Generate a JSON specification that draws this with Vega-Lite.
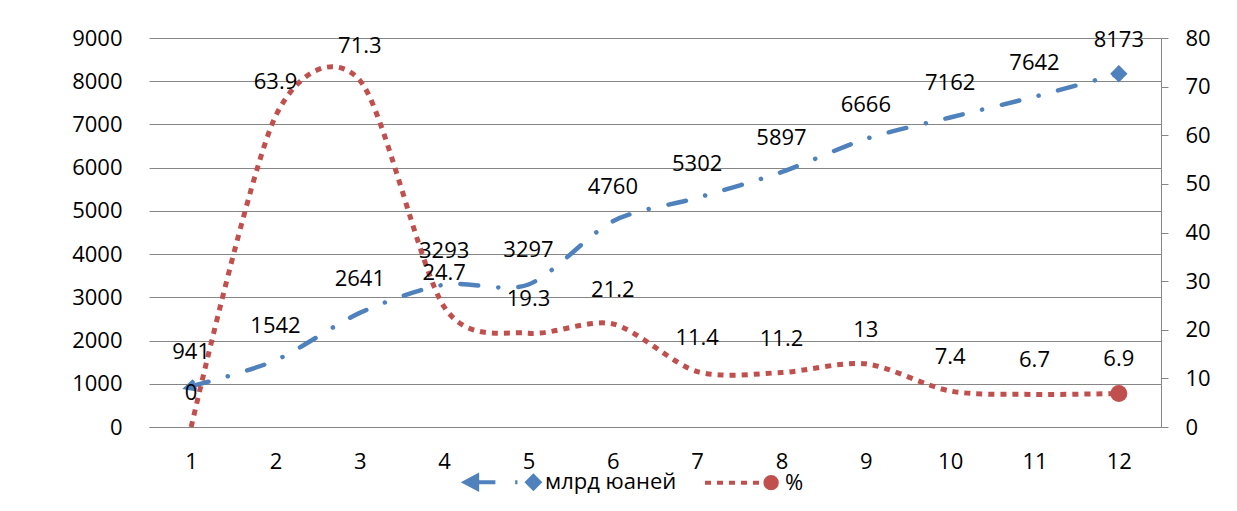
{
  "$schema": "https://vega.github.io/schema/vega-lite/v6.json",
  "width": 1012,
  "height": 389,
  "autosize": {"type": "none"},
  "padding": {"left": 149, "top": 38, "right": 76, "bottom": 84},
  "background": "white",
  "config": {
    "view": {"stroke": null},
    "font": "Open Sans",
    "axis": {
      "labelFont": "Open Sans",
      "labelFontSize": 22,
      "labelColor": "#000000",
      "title": null,
      "domainColor": "#868686",
      "tickColor": "#868686",
      "gridColor": "#868686",
      "gridWidth": 1
    }
  },
  "datasets": {
    "yuan": [
      {"x": 1, "value": 941},
      {"x": 2, "value": 1542},
      {"x": 3, "value": 2641},
      {"x": 4, "value": 3293},
      {"x": 5, "value": 3297},
      {"x": 6, "value": 4760},
      {"x": 7, "value": 5302},
      {"x": 8, "value": 5897},
      {"x": 9, "value": 6666},
      {"x": 10, "value": 7162},
      {"x": 11, "value": 7642},
      {"x": 12, "value": 8173}
    ],
    "pct": [
      {"x": 1, "value": 0},
      {"x": 2, "value": 63.9},
      {"x": 3, "value": 71.3},
      {"x": 4, "value": 24.7},
      {"x": 5, "value": 19.3},
      {"x": 6, "value": 21.2},
      {"x": 7, "value": 11.4},
      {"x": 8, "value": 11.2},
      {"x": 9, "value": 13},
      {"x": 10, "value": 7.4},
      {"x": 11, "value": 6.7},
      {"x": 12, "value": 6.9}
    ]
  },
  "layer": [
    {
      "data": {"name": "yuan"},
      "encoding": {
        "x": {
          "field": "x",
          "type": "ordinal",
          "scale": {"type": "point", "padding": 0.5},
          "axis": {"labelAngle": 0, "ticks": false, "domain": true, "grid": false, "labelPadding": 24}
        },
        "y": {
          "field": "value",
          "type": "quantitative",
          "scale": {"domain": [0, 9000], "nice": false},
          "axis": {
            "orient": "left",
            "values": [0, 1000, 2000, 3000, 4000, 5000, 6000, 7000, 8000, 9000],
            "format": "d",
            "domain": false,
            "ticks": false,
            "grid": true,
            "labelPadding": 27
          }
        }
      },
      "layer": [
        {
          "mark": {
            "type": "line",
            "color": "#4F81BD",
            "strokeWidth": 4.5,
            "strokeDash": [18, 20, 0.1, 20],
            "strokeCap": "round",
            "interpolate": "cardinal",
            "tension": 0.15
          }
        },
        {
          "transform": [{"filter": "datum.x === 1"}],
          "mark": {
            "type": "point",
            "shape": "M0.7,-0.75L-0.8,0L0.7,0.75",
            "filled": false,
            "color": "#4F81BD",
            "strokeWidth": 4,
            "size": 150,
            "angle": -17,
            "opacity": 1
          }
        },
        {
          "transform": [{"filter": "datum.x === 12"}],
          "mark": {
            "type": "point",
            "shape": "diamond",
            "filled": true,
            "color": "#4F81BD",
            "size": 300,
            "opacity": 1
          }
        },
        {
          "mark": {
            "type": "text",
            "dy": -34,
            "font": "Open Sans",
            "fontSize": 22,
            "color": "#000000"
          },
          "encoding": {"text": {"field": "value", "type": "nominal"}}
        },
        {
          "data": {"values": [{"series": "млрд юаней"}, {"series": "%"}]},
          "mark": {"type": "point", "filled": true, "opacity": 0},
          "encoding": {
            "x": null,
            "y": null,
            "color": {
              "field": "series",
              "type": "nominal",
              "sort": null,
              "scale": {"domain": ["млрд юаней", "%"], "range": ["#4F81BD", "#C0504D"]},
              "legend": {
                "orient": "none",
                "legendX": 314,
                "legendY": 404,
                "direction": "horizontal",
                "title": null,
                "padding": 0,
                "symbolSize": 5776,
                "symbolStrokeWidth": 4,
                "symbolOpacity": 1,
                "labelFont": "Open Sans",
                "labelFontSize": 22,
                "labelColor": "#000000",
                "labelOffset": 2,
                "columnPadding": 20,
                "encode": {
                  "symbols": {
                    "update": {
                      "fill": {"scale": "color", "field": "value"},
                      "stroke": {"scale": "color", "field": "value"},
                      "fillOpacity": {"value": 1},
                      "strokeOpacity": {"value": 1}
                    }
                  }
                }
              }
            },
            "stroke": {
              "field": "series",
              "type": "nominal",
              "sort": null,
              "scale": {"domain": ["млрд юаней", "%"], "range": ["#4F81BD", "#C0504D"]}
            },
            "shape": {
              "field": "series",
              "type": "nominal",
              "sort": null,
              "scale": {
                "domain": ["млрд юаней", "%"],
                "range": [
                  "M-1,0L-0.68,-0.17L-0.68,0.17Z M-0.7,0L-0.2,0 M0.32,0L0.38,0 M0.64,0L0.8,-0.16L0.96,0L0.8,0.16Z",
                  "M-1,0L-0.842,0 M-0.684,0L-0.526,0 M-0.368,0L-0.211,0 M-0.053,0L0.105,0 M0.263,0L0.421,0 M0.59,0A0.15,0.15 0 1,0 0.89,0A0.15,0.15 0 1,0 0.59,0Z"
                ]
              }
            }
          }
        }
      ]
    },
    {
      "data": {"name": "pct"},
      "encoding": {
        "x": {"field": "x", "type": "ordinal", "scale": {"type": "point", "padding": 0.5}},
        "y": {
          "field": "value",
          "type": "quantitative",
          "scale": {"domain": [0, 80], "nice": false},
          "axis": {
            "orient": "right",
            "values": [0, 10, 20, 30, 40, 50, 60, 70, 80],
            "domain": true,
            "ticks": true,
            "tickSize": 7,
            "grid": false,
            "labelPadding": 17
          }
        }
      },
      "layer": [
        {
          "mark": {
            "type": "line",
            "color": "#C0504D",
            "strokeWidth": 5,
            "strokeDash": [6, 6],
            "strokeCap": "butt",
            "interpolate": "cardinal",
            "tension": 0.15
          }
        },
        {
          "transform": [{"filter": "datum.x === 12"}],
          "mark": {
            "type": "point",
            "shape": "circle",
            "filled": true,
            "color": "#C0504D",
            "size": 289,
            "opacity": 1
          }
        },
        {
          "mark": {
            "type": "text",
            "dy": -34,
            "font": "Open Sans",
            "fontSize": 22,
            "color": "#000000"
          },
          "encoding": {"text": {"field": "value", "type": "nominal"}}
        }
      ]
    }
  ],
  "resolve": {"scale": {"y": "independent"}}
}
